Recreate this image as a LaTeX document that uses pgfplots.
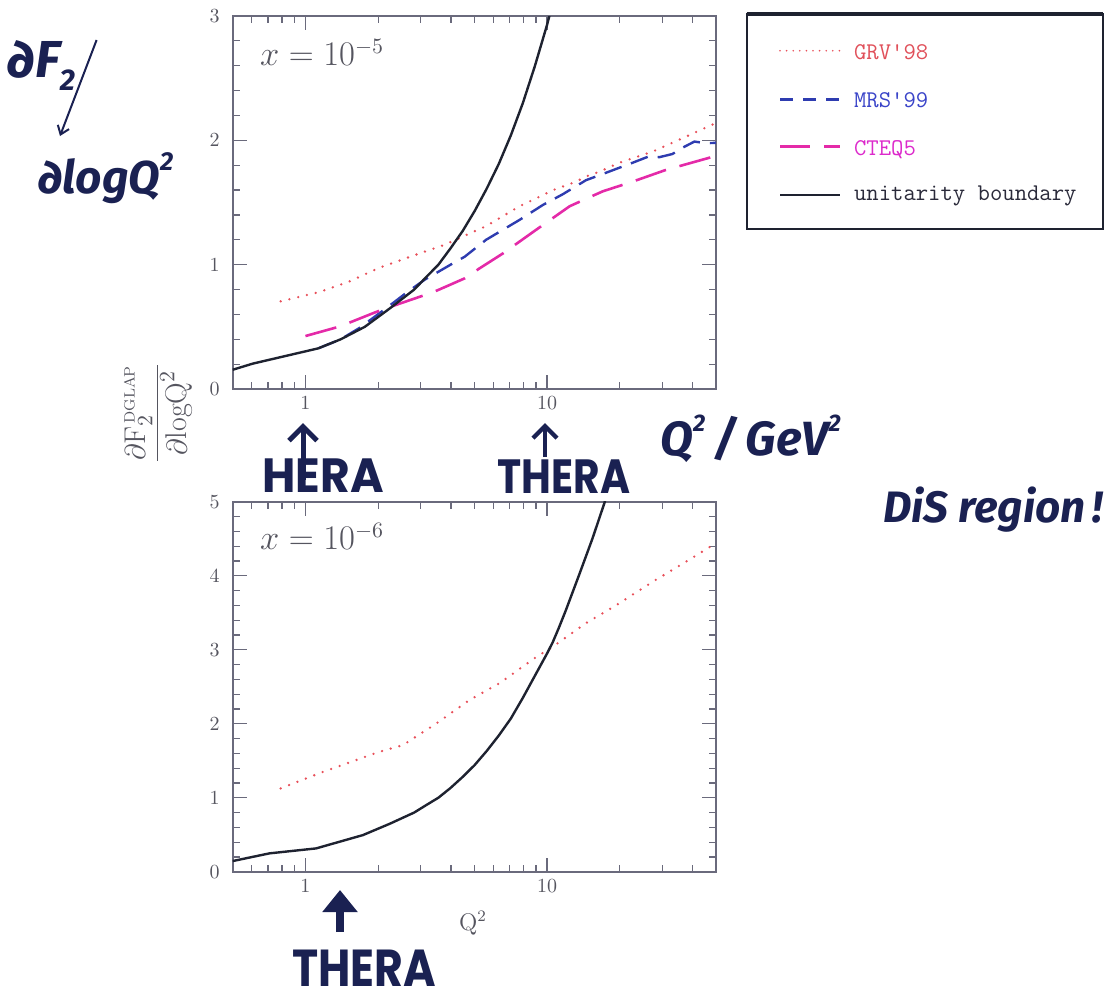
\documentclass[border=0pt]{standalone}
\usepackage{fontspec}
\usepackage{graphicx}
\usepackage{pgfplots}
\pgfplotsset{compat=1.18}
\usetikzlibrary{arrows.meta}

\newfontfamily\handfont{Poppins}
\newfontfamily\handit{Fira Sans}

\definecolor{frame}{HTML}{6A6A7C}
\definecolor{lab}{HTML}{55555F}
\definecolor{grv}{HTML}{E8505A}
\definecolor{mrs}{HTML}{2E3CB0}
\definecolor{cteq}{HTML}{E42AA8}
\definecolor{ub}{HTML}{1E2230}
\definecolor{ink}{HTML}{1A2152}
\definecolor{grvtxt}{HTML}{E0505A}
\definecolor{mrstxt}{HTML}{3A44C8}
\definecolor{cteqtxt}{HTML}{DC2ACB}
\definecolor{ubtxt}{HTML}{2A2A3A}

\tikzset{
  grvline/.style={grv, line width=1.3pt, line cap=round, dash pattern=on 0pt off 4.5pt},
  mrsline/.style={mrs, line width=1.2pt, dash pattern=on 9pt off 5pt},
  cteqline/.style={cteq, line width=1.3pt, dash pattern=on 16pt off 7pt},
  ubline/.style={ub, line width=1.2pt, line join=round},
}

\pgfplotsset{
  qpanel/.style={
    scale only axis, width=241.65pt,
    xmin=0.5, xmax=50,
    xtick={1,10}, xticklabels={1,10},
    minor xtick={0.6,0.7,0.8,0.9,2,3,4,5,6,7,8,9,20,30,40},
    minor y tick num=4,
    tick align=inside,
    major tick length=7pt, minor tick length=3.5pt,
    axis line style={frame, line width=0.8pt},
    tick style={frame, line width=0.6pt},
    ticklabel style={lab, font=\fontsize{10}{12}\selectfont},
    yticklabel style={xshift=-3pt},
  },
}

\begin{document}
\begin{tikzpicture}[x=1pt,y=1pt]
\path[use as bounding box] (0,0) rectangle (552,-501.5);

% ---------- upper panel: x = 1e-5 ----------
\begin{semilogxaxis}[qpanel, at={(116.35pt,-194.5pt)}, anchor=south west, height=186.5pt,
  ymin=0, ymax=3, ytick={0,1,2,3}]
\addplot[grvline] coordinates {
 (0.79,0.705) (1.14,0.78) (1.5,0.86) (2.02,0.975) (2.96,1.09) (3.77,1.16)
 (4.07,1.19) (5.59,1.31) (7.69,1.47) (9.3,1.547) (10.6,1.60) (13.2,1.668)
 (14.5,1.71) (16.5,1.748) (19.9,1.82) (27.4,1.91) (37.6,2.03) (50,2.14)};
\addplot[mrsline] coordinates {
 (1.14,0.33) (1.4,0.40) (1.67,0.49) (2.16,0.65) (2.6,0.77) (3.12,0.88)
 (4.07,1.01) (4.56,1.064) (5.59,1.2) (7.69,1.36) (9.6,1.48) (11.6,1.566)
 (14.5,1.68) (16.5,1.72) (22.6,1.82) (26.3,1.87) (29.2,1.865) (33,1.89)
 (36.3,1.94) (40.7,1.99) (45.5,1.977) (50,1.98)};
\addplot[cteqline] coordinates {
 (1.0,0.426) (1.37,0.50) (1.55,0.54) (2.06,0.636) (3.12,0.756) (3.54,0.796)
 (4.56,0.89) (5.25,0.97) (6.56,1.09) (9.0,1.28) (12.4,1.47) (14.5,1.53)
 (17.0,1.59) (22.6,1.668) (31,1.762) (50,1.875)};
\addplot[ubline] coordinates {
 (0.5,0.155) (0.605,0.204) (1.13,0.327) (1.4,0.40) (1.76,0.50) (2.24,0.65)
 (2.82,0.80) (3.16,0.90) (3.55,1.0) (3.98,1.13) (4.47,1.27) (5.01,1.43)
 (5.62,1.61) (6.31,1.81) (7.08,2.04) (7.94,2.30) (8.91,2.60) (10.0,2.93)
 (10.7,3.15)};
\node[anchor=base west, lab, font=\fontsize{16}{16}\selectfont]
  at (rel axis cs:0.042,0.866) {$x=10^{-5}$};
\end{semilogxaxis}

% ---------- lower panel: x = 1e-6 ----------
\begin{semilogxaxis}[qpanel, at={(116.35pt,-435.85pt)}, anchor=south west, height=185pt,
  ymin=0, ymax=5, ytick={0,1,2,3,4,5},
  xlabel={$\mathrm{Q}^2$},
  xlabel style={lab, font=\fontsize{12}{12}\selectfont,
    at={(axis description cs:0.497,-0.139)}, anchor=center}]
\addplot[grvline] coordinates {
 (0.79,1.126) (1.14,1.33) (2.02,1.62) (2.53,1.71) (3.47,2.0) (4.77,2.32)
 (6.35,2.546) (9.0,2.9) (10.55,3.04) (14.5,3.36) (19.3,3.60) (27.4,3.92)
 (37.6,4.19) (50,4.44)};
\addplot[ubline] coordinates {
 (0.5,0.144) (0.71,0.248) (1.107,0.315) (1.73,0.495) (2.24,0.65)
 (2.82,0.80) (3.16,0.90) (3.55,1.0) (3.98,1.13) (4.47,1.28) (5.01,1.44)
 (5.62,1.63) (6.31,1.84) (7.08,2.07) (7.94,2.35) (8.91,2.65) (10.0,2.95)
 (10.55,3.10) (11.2,3.30) (11.98,3.54) (13.6,4.02) (15.4,4.50) (17.3,4.99)
 (18,5.2)};
\node[anchor=base west, lab, font=\fontsize{16}{16}\selectfont]
  at (rel axis cs:0.042,0.870) {$x=10^{-6}$};
\end{semilogxaxis}

% shared vertical label
\node[rotate=90, lab, font=\fontsize{15}{15}\selectfont] at (79.25,-206.5)
  {$\displaystyle\frac{\partial\mathrm{F}_2^{\scriptscriptstyle\,\mathrm{DGLAP}}}{\partial\mathrm{logQ}^2}$};

% ---------- legend ----------
\draw[ub, line width=1pt] (373.35,-7) rectangle (551.35,-114.5);
\draw[ub, line width=2pt] (373.35,-7) -- (551.35,-7);
\draw[grvline, line width=0.9pt, dash pattern=on 0pt off 3.3pt] (390,-25.35) -- (420,-25.35);
\draw[mrsline, dash pattern=on 6.5pt off 5pt] (390,-49.65) -- (420,-49.65);
\draw[cteqline, dash pattern=on 15pt off 7pt] (390,-73.35) -- (420,-73.35);
\draw[ubline] (390,-97.5) -- (420,-97.5);
\begin{scope}[every node/.style={anchor=base west, font=\ttfamily\fontsize{12}{12}\selectfont}]
\node[grvtxt]  at (423.5,-29.65) {GRV'98};
\node[mrstxt]  at (423.5,-53.65) {MRS'99};
\node[cteqtxt] at (423.5,-77.5)  {CTEQ5};
\node[ubtxt]   at (423.5,-100)   {unitarity boundary};
\end{scope}

% ---------- handwritten notes ----------
\begin{scope}[ink]
\node[anchor=base west, inner sep=0pt, font=\handit\bfseries\itshape\fontsize{26}{26}\selectfont]
  at (3.5,-38.5) {∂F\raisebox{-0.25em}{\fontsize{15}{15}\selectfont 2}};
\draw[line width=1pt, -{Straight Barb[length=4pt,width=6pt]}] (48.3,-20) -- (30,-68);
\node[anchor=base west, inner sep=0pt, font=\handit\bfseries\itshape\fontsize{23}{23}\selectfont]
  at (19,-96.5) {∂logQ\raisebox{0.5em}{\fontsize{13}{13}\selectfont 2}};

\node[anchor=base west, inner sep=0pt, font=\handfont\bfseries\fontsize{24}{24}\selectfont]
  at (131,-246) {\scalebox{0.95}[1]{HERA}};
\draw[line width=2.5pt, -{Straight Barb[length=7pt,width=14pt,line width=2.5pt]}]
  (151.5,-240) -- (151.5,-211.5);
\node[anchor=base west, inner sep=0pt, font=\handfont\bfseries\fontsize{24}{24}\selectfont]
  at (248.5,-246.5) {\scalebox{0.85}[1]{THERA}};
\draw[line width=2.2pt, -{Straight Barb[length=6pt,width=12pt,line width=2.2pt]}]
  (272.5,-228.5) -- (272.5,-211.5);

\node[anchor=base west, inner sep=0pt, font=\handit\itshape\bfseries\fontsize{24}{24}\selectfont]
  at (330,-227.5) {Q\raisebox{0.5em}{\fontsize{12}{12}\selectfont 2}\,/\,GeV\raisebox{0.5em}{\fontsize{12}{12}\selectfont 2}};
\node[anchor=base west, inner sep=0pt, font=\handit\itshape\bfseries\fontsize{22}{22}\selectfont]
  at (441.5,-261) {DiS region\,!};

\draw[line width=4pt, -{Triangle[length=11pt,width=17pt]}] (170,-466) -- (170,-445);
\node[anchor=base west, inner sep=0pt, font=\handfont\bfseries\fontsize{26}{26}\selectfont]
  at (146,-493) {\scalebox{0.85}[1]{THERA}};
\end{scope}
\end{tikzpicture}
\end{document}
